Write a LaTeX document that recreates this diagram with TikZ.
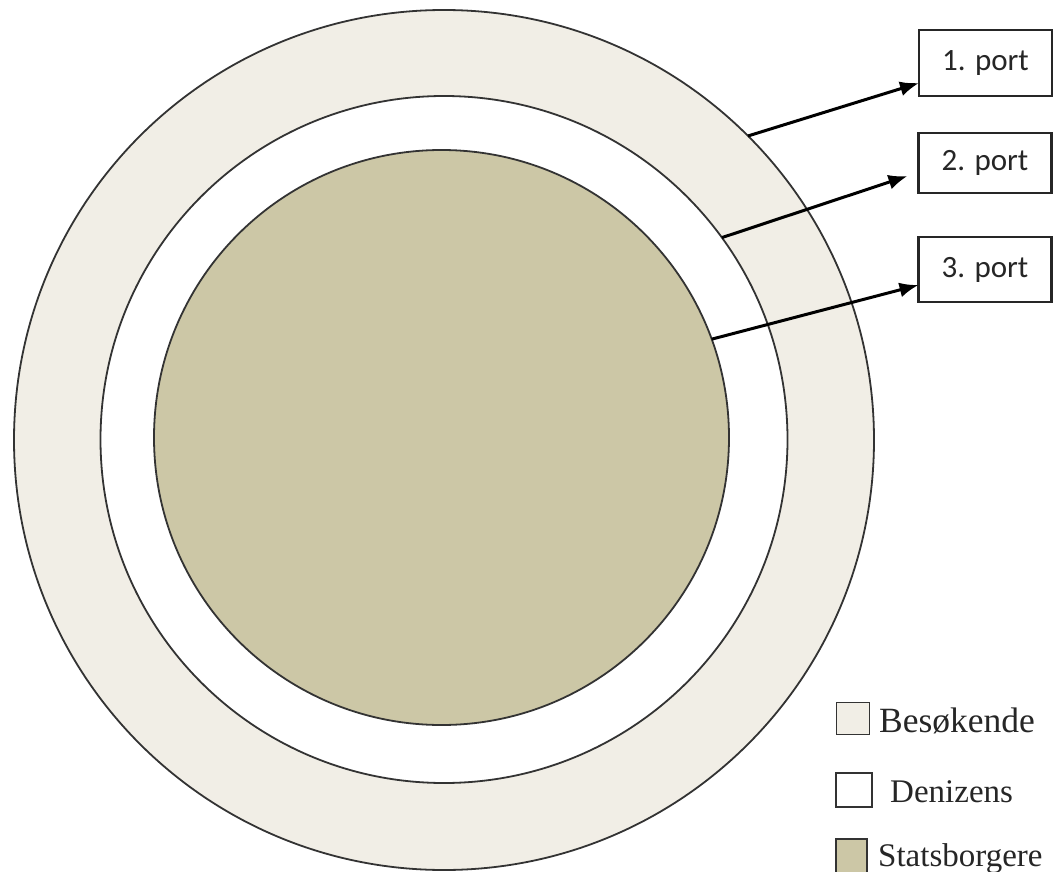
\documentclass[tikz,border=0pt]{standalone}
\usepackage{fontspec}
\setmainfont{Liberation Serif}
\newfontfamily\portfont{Carlito}
\usetikzlibrary{arrows.meta}
\definecolor{visitc}{HTML}{F1EEE6}
\definecolor{citizc}{HTML}{CCC7A6}
\definecolor{linec}{HTML}{333333}
\begin{document}
\begin{tikzpicture}[x=1pt,y=-1pt,
  ring/.style={circle,draw=linec,line width=1.8pt,inner sep=0pt,outer sep=0pt},
  portbox/.style={draw=black!85,line width=2.2pt,fill=white,minimum width=133pt,inner sep=0pt,outer sep=0pt,
    font=\portfont\fontsize{31}{31}\selectfont,text=black!85},
  keybox/.style={draw=linec,line width=1.6pt,minimum width=33pt,minimum height=32pt,inner sep=0pt},
  keytext/.style={anchor=base west,inner sep=0pt,font=\fontsize{33}{33}\selectfont,text=black!85},
  arr/.style={-{Latex[length=19pt,width=15pt]},line width=3pt,black}]
\useasboundingbox (0,0) rectangle (1055,872);
% circles
\node[ring,fill=visitc,minimum size=860pt] (outer) at (444,440) {};
\node[ring,fill=white,minimum size=687pt] (mid) at (444,439.5) {};
\node[ring,fill=citizc,minimum size=575pt] (inner) at (441.5,437.5) {};
% port boxes
\node[portbox,minimum height=66pt] (p1) at (985.5,63) {1. port};
\node[portbox,minimum height=60pt] (p2) at (985,163) {2. port};
\node[portbox,minimum height=65pt] (p3) at (985,269.5) {3. port};
% arrows
\draw[arr] (outer.45.9) -- ([yshift=-20pt]p1.west);
\draw[arr] (mid.36.7) -- ([xshift=-11pt,yshift=-13pt]p2.west);
\draw[arr] (inner.20) -- ([yshift=-15.5pt]p3.west);
% legend
\node[keybox,fill=visitc] (k1) at (853,718.5) {};
\node[keybox,fill=white,minimum width=36pt,minimum height=34pt] (k2) at (854,790) {};
\node[keybox,fill=citizc,minimum width=31pt,minimum height=34pt] (k3) at (851.5,856) {};
\node[keytext,font=\fontsize{35.5}{35.5}\selectfont] (t1) at (879,732) {Besøkende};
\node[keytext] (t2) at (890,802) {Denizens};
\node[keytext] (t3) at (878,866) {Statsborgere};
\end{tikzpicture}
\end{document}
